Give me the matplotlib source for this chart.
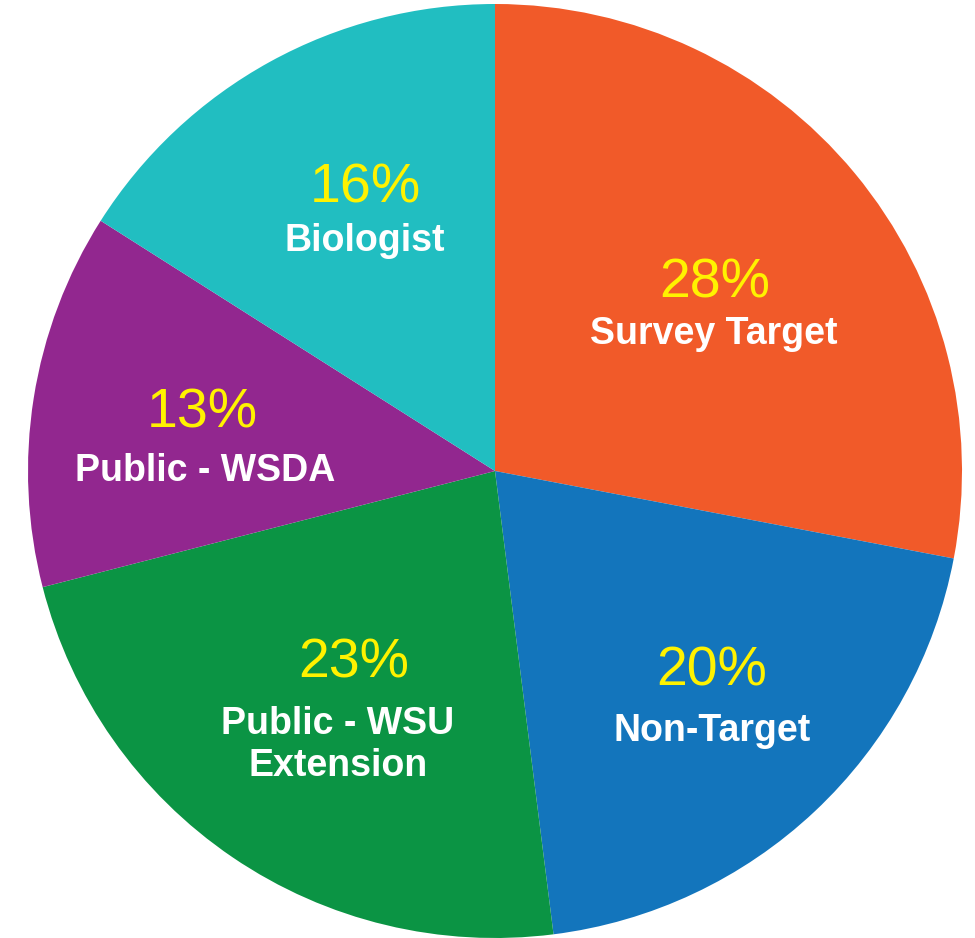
import matplotlib
matplotlib.use("Agg")
import matplotlib.pyplot as plt

categories = ["Survey Target", "Non-Target", "Public - WSU\nExtension", "Public - WSDA", "Biologist"]
shares = [28, 20, 23, 13, 16]
colors = ["#F15A29", "#1375BC", "#0B9444", "#92278F", "#21BEC1"]

# label anchor positions in pixel coords (x, y from top)
pct_pos = [(715, 283), (712, 671), (354, 663), (202, 413), (365, 188)]
lab_pos = [(714, 334), (712, 731), (338, 745), (205, 471), (365, 241)]

W, H = 975, 938
fig = plt.figure(figsize=(W / 100, H / 100), dpi=100)
ax = fig.add_axes([0, 0, 1, 1])

cx, cy, r = 495, 471, 467
ax.pie(shares, colors=colors, startangle=90, counterclock=False,
       radius=r, center=(cx, H - cy), frame=True,
       wedgeprops=dict(linewidth=0, antialiased=True))
ax.set_xlim(0, W)
ax.set_ylim(0, H)
ax.set_aspect("equal")
ax.axis("off")

font = "Liberation Sans"
for cat, s, (px, py), (lx, ly) in zip(categories, shares, pct_pos, lab_pos):
    ax.text(px, H - py, f"{s}%", color="#FFF200", fontsize=40, family=font,
            ha="center", va="center")
    ax.text(lx, H - ly, cat, color="white", fontsize=27, family=font,
            fontweight="bold", ha="center", va="center", linespacing=1.2)

fig.savefig("out.png", dpi=100)
